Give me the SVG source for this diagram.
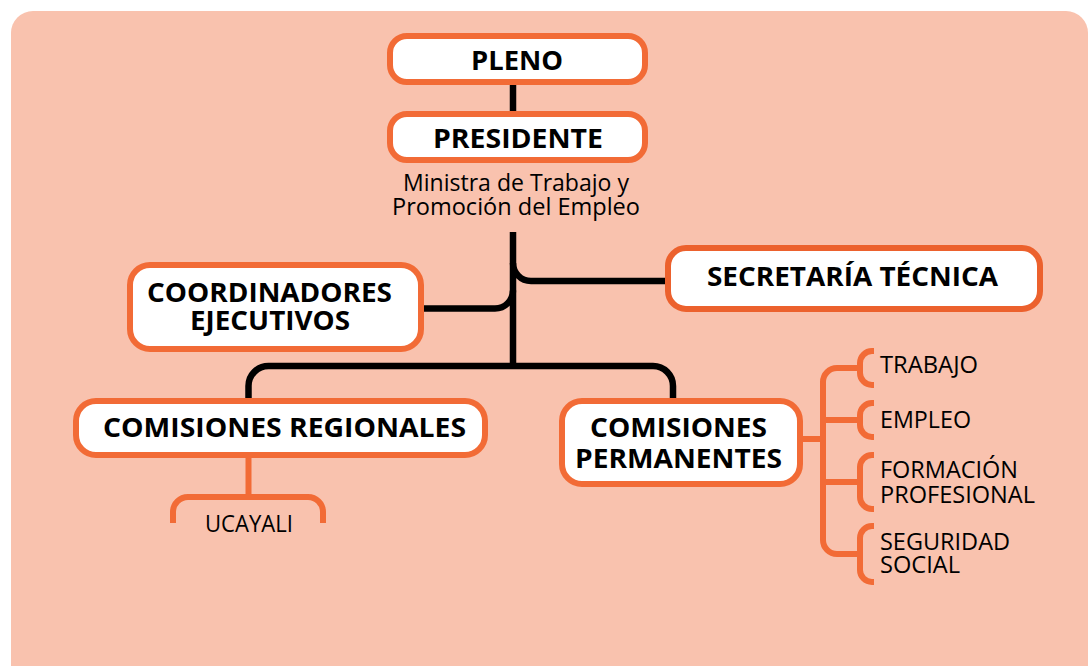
<svg xmlns="http://www.w3.org/2000/svg" width="1092" height="666" viewBox="0 0 1092 666">
<style>
.box{fill:#fff;stroke:#F26B36;stroke-width:6}
.blk{fill:none;stroke:#000;stroke-width:6.5}
.org{fill:none;stroke:#F26B36;stroke-width:6}
.b{font-family:"Open Sans","Noto Sans",sans-serif;font-weight:700;font-size:27px;fill:#000}
.r{font-family:"Open Sans","Noto Sans",sans-serif;font-weight:400;font-size:23px;fill:#000}
</style>
<rect x="0" y="0" width="1092" height="666" fill="#fff"/>
<rect x="11" y="11" width="1077" height="700" rx="22" fill="#F9C2AE"/>
<g id="connectors">
<path class="blk" d="M513,85 L513,114"/>
<path class="blk" d="M513,232 L513,366"/>
<path class="blk" d="M513,263 A18,18 0 0 0 531,281 L666,281"/>
<path class="blk" d="M423,308.5 L495,308.5 A18,18 0 0 0 513,290.5"/>
<path class="blk" d="M248.5,400 L248.5,386 A20,20 0 0 1 268.5,366 L653,366 A20,20 0 0 1 673,386 L673,400"/>
<path class="org" d="M248.5,458 L248.5,497"/>
<path class="org" d="M173,523 L173,512 A15,15 0 0 1 188,497 L308,497 A15,15 0 0 1 323,512 L323,523"/>
<path class="org" d="M803,439 L823,439"/>
<path class="org" d="M860,368 L837,368 A14,14 0 0 0 823,382 L823,540 A14,14 0 0 0 837,554 L860,554"/>
<path class="org" d="M823,420 L860,420 M823,482 L860,482"/>
<path class="org" d="M874,351 L872,351 A12,12 0 0 0 860,363 L860,373 A12,12 0 0 0 872,385 L874,385"/>
<path class="org" d="M874,403 L872,403 A12,12 0 0 0 860,415 L860,425 A12,12 0 0 0 872,437 L874,437"/>
<path class="org" d="M874,455 L872,455 A12,12 0 0 0 860,467 L860,497 A12,12 0 0 0 872,509 L874,509"/>
<path class="org" d="M874,526 L872,526 A12,12 0 0 0 860,538 L860,570 A12,12 0 0 0 872,582 L874,582"/>
</g>
<g id="pleno">
<rect class="box" x="390" y="36" width="255" height="46" rx="17"/>
<text class="b" x="471" y="70" textLength="92" lengthAdjust="spacingAndGlyphs">PLENO</text>
</g>
<g id="presidente">
<rect class="box" x="390" y="114" width="255" height="46" rx="17"/>
<text class="b" x="433" y="148" textLength="170" lengthAdjust="spacingAndGlyphs">PRESIDENTE</text>
<text class="r" x="403" y="191" textLength="226" lengthAdjust="spacingAndGlyphs">Ministra de Trabajo y</text>
<text class="r" x="392" y="215" textLength="248" lengthAdjust="spacingAndGlyphs">Promoción del Empleo</text>
</g>
<g id="secretaria">
<rect class="box" x="668" y="248" width="372" height="61" rx="18" style="stroke:#EC612D"/>
<text class="b" x="707" y="286" textLength="291" lengthAdjust="spacingAndGlyphs">SECRETARÍA TÉCNICA</text>
</g>
<g id="coordinadores">
<rect class="box" x="130" y="265" width="291" height="84" rx="20"/>
<text class="b" x="147" y="302" textLength="245" lengthAdjust="spacingAndGlyphs">COORDINADORES</text>
<text class="b" x="190" y="330" textLength="160" lengthAdjust="spacingAndGlyphs">EJECUTIVOS</text>
</g>
<g id="regionales">
<rect class="box" x="76" y="401" width="409" height="54" rx="20"/>
<text class="b" x="103" y="437" textLength="363" lengthAdjust="spacingAndGlyphs">COMISIONES REGIONALES</text>
</g>
<g id="ucayali">
<text class="r" x="205" y="532" textLength="88" lengthAdjust="spacingAndGlyphs">UCAYALI</text>
</g>
<g id="permanentes">
<rect class="box" x="562" y="401" width="238" height="83" rx="20"/>
<text class="b" x="590" y="437" textLength="177" lengthAdjust="spacingAndGlyphs">COMISIONES</text>
<text class="b" x="575" y="468" textLength="207" lengthAdjust="spacingAndGlyphs">PERMANENTES</text>
</g>
<g id="trabajo"><text class="r" x="880" y="373" textLength="98" lengthAdjust="spacingAndGlyphs">TRABAJO</text></g>
<g id="empleo"><text class="r" x="880" y="428" textLength="91" lengthAdjust="spacingAndGlyphs">EMPLEO</text></g>
<g id="formacion">
<text class="r" x="880" y="478" textLength="138" lengthAdjust="spacingAndGlyphs">FORMACIÓN</text>
<text class="r" x="880" y="503" textLength="155" lengthAdjust="spacingAndGlyphs">PROFESIONAL</text>
</g>
<g id="seguridad">
<text class="r" x="880" y="550" textLength="130" lengthAdjust="spacingAndGlyphs">SEGURIDAD</text>
<text class="r" x="880" y="573" textLength="80" lengthAdjust="spacingAndGlyphs">SOCIAL</text>
</g>
</svg>
